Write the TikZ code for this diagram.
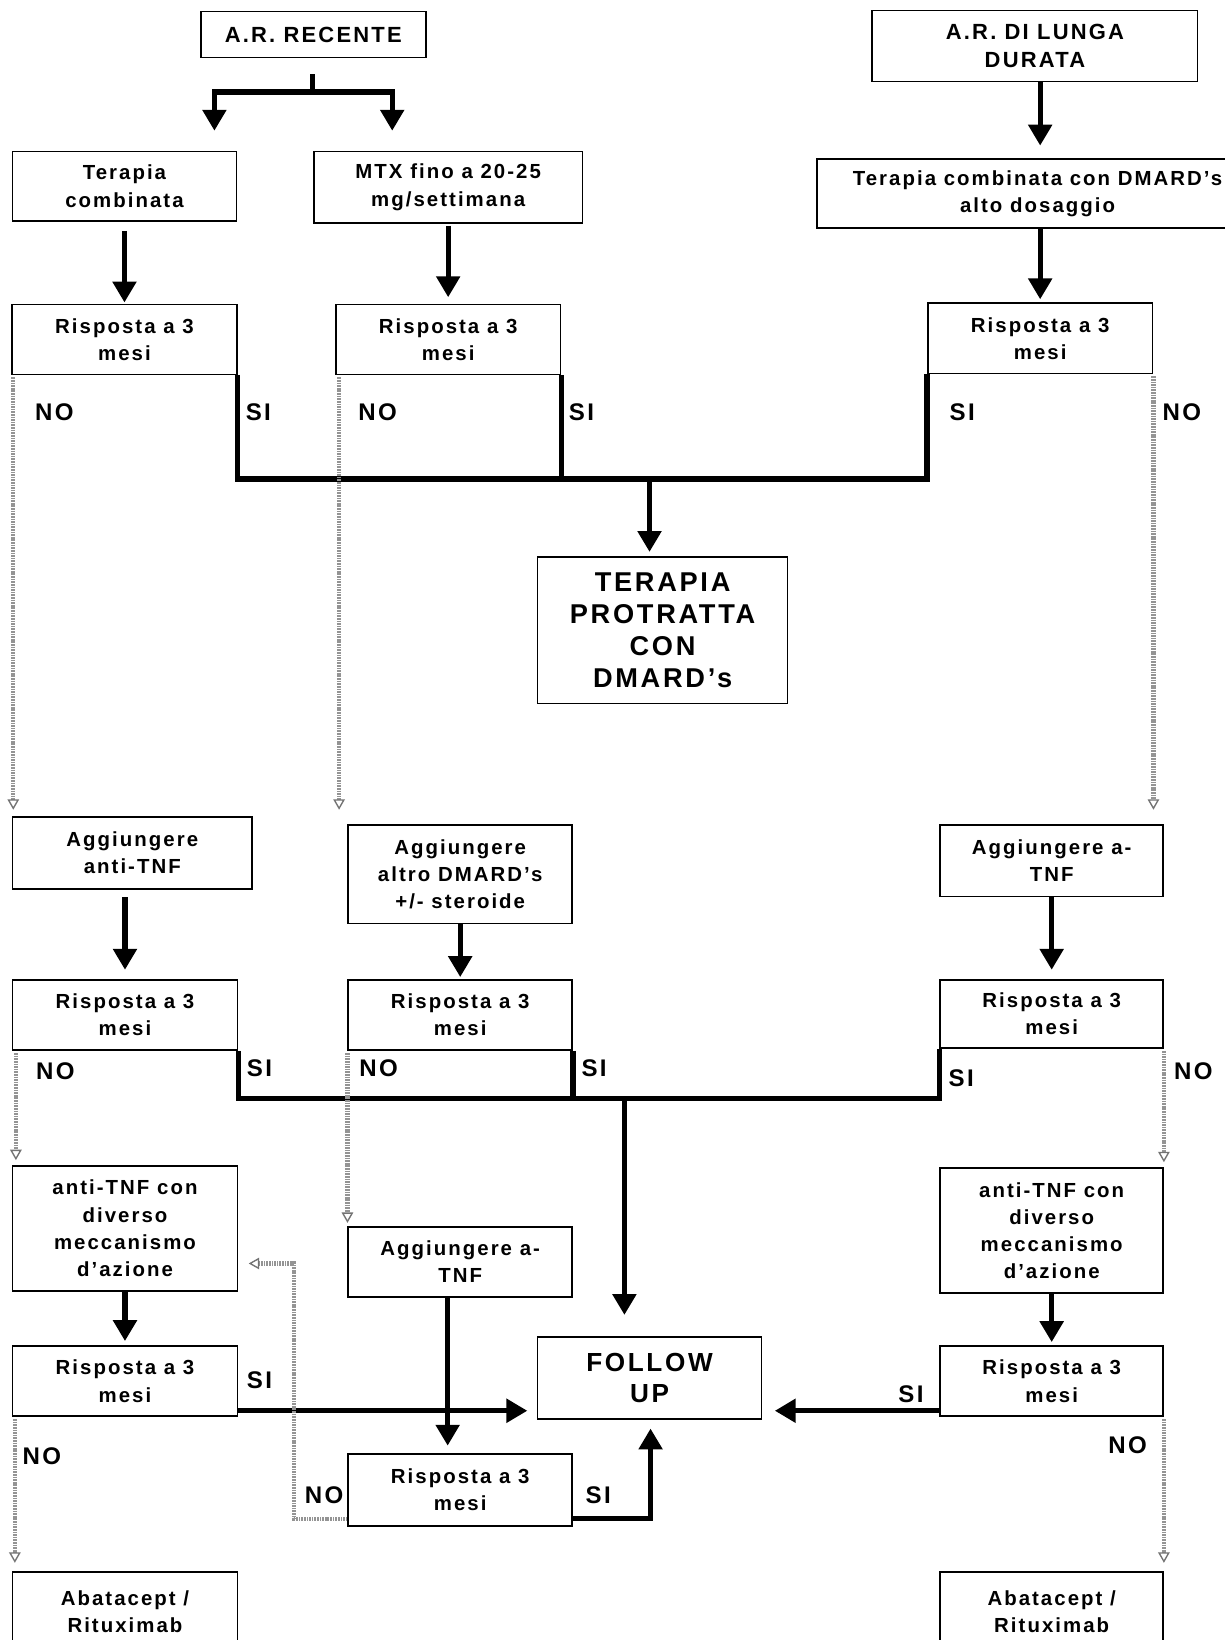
\documentclass[tikz,border=0pt]{standalone}
\usepackage{fontspec}
\setmainfont{Liberation Sans}[LetterSpace=10]
\usetikzlibrary{arrows.meta,calc}
\tikzset{
  box/.style={draw, line width=1.6pt, align=center, inner sep=0pt, font=\fontsize{19.5}{26}\selectfont\bfseries},
  rs/.style={minimum width=215pt, minimum height=67pt},
  hdr/.style={font=\fontsize{21}{26}\selectfont\bfseries},
  big/.style={font=\fontsize{26}{30.5}\selectfont\bfseries},
  lbl/.style={inner sep=0pt, font=\fontsize{23}{26}\selectfont\bfseries},
  thk/.style={line width=5pt},
  thkarr/.style={line width=5pt, -{Triangle[width=22pt,length=20pt]}},
  noline/.style={draw=black!42, line width=4pt, dash pattern=on 1.6pt off 0.9pt,
    -{Triangle[open,line width=1.3pt,width=11pt,length=10pt,color=black!55]}},
}
\begin{document}
\begin{tikzpicture}[x=1pt,y=-1pt]
\useasboundingbox (0,0) rectangle (1171,1568);
\fill[white] (0,0) rectangle (1171,1568);
\clip (0,0) rectangle (1171,1568);

% ---------- boxes ----------
\node[box, hdr, minimum width=215pt, minimum height=44pt] (rec) at (299.5,33) {A.R. RECENTE};
\node[box, hdr, minimum width=311pt, minimum height=68pt] (lunga) at (989.5,44) {A.R. DI LUNGA\\DURATA};
\node[box, minimum width=214pt, minimum height=66pt] (tc) at (119,178) {Terapia\\combinata};
\node[box, minimum width=257pt, minimum height=68pt] (mtx) at (428.5,179) {MTX fino a 20-25\\mg/settimana};
\node[box, minimum width=422pt, minimum height=66pt] (tcd) at (992,185) {Terapia combinata con DMARD’s\\alto dosaggio};
\node[box, rs] (r1L) at (119,324.5) {Risposta a 3\\mesi};
\node[box, rs] (r1M) at (428.5,324.5) {Risposta a 3\\mesi};
\node[box, rs] (r1R) at (994.5,323.5) {Risposta a 3\\mesi};
\node[box, big, minimum width=239pt, minimum height=140pt] (tp) at (633.5,602.5) {TERAPIA\\PROTRATTA\\CON\\DMARD’s};
\node[box, minimum width=229pt, minimum height=69pt] (aL) at (126.5,815.5) {Aggiungere\\anti-TNF};
\node[box, minimum width=214pt, minimum height=94pt] (aM) at (440,836) {Aggiungere\\altro DMARD’s\\+/- steroide};
\node[box, minimum width=213pt, minimum height=68pt] (aR) at (1005.5,823) {Aggiungere a-\\TNF};
\node[box, rs] (r2L) at (119.5,970.5) {Risposta a 3\\mesi};
\node[box, rs, minimum width=214pt] (r2M) at (440,970.5) {Risposta a 3\\mesi};
\node[box, rs, minimum width=213pt, minimum height=65pt] (r2R) at (1005.5,969.5) {Risposta a 3\\mesi};
\node[box, minimum width=215pt, minimum height=119pt] (atL) at (119.5,1174.5) {anti-TNF con\\diverso\\meccanismo\\d’azione};
\node[box, minimum width=214pt, minimum height=67pt] (aM2) at (440,1206.5) {Aggiungere a-\\TNF};
\node[box, minimum width=213pt, minimum height=119pt] (atR) at (1005.5,1176.5) {anti-TNF con\\diverso\\meccanismo\\d’azione};
\node[box, rs] (r3L) at (119.5,1320.5) {Risposta a 3\\mesi};
\node[box, font=\fontsize{25}{29}\selectfont\bfseries, minimum width=214pt, minimum height=79pt] (fu) at (621,1317.5) {FOLLOW\\UP};
\node[box, rs, minimum width=213pt] (r3R) at (1005.5,1320.5) {Risposta a 3\\mesi};
\node[box, rs, minimum width=214pt, minimum height=69pt] (r3M) at (440,1424.5) {Risposta a 3\\mesi};
\node[box, minimum width=215pt, minimum height=76pt] (abL) at (119.5,1541) {Abatacept /\\Rituximab};
\node[box, minimum width=213pt, minimum height=76pt] (abR) at (1005.5,1541) {Abatacept /\\Rituximab};

% ---------- top split ----------
\coordinate (sp) at (299,88);
\coordinate (tcin) at (205,125);
\coordinate (mtxin) at (375,125);
\draw[thk] ($(rec.south)+(-0.5,15)$) -- (sp);
\draw[thkarr] (sp) -| (tcin);
\draw[thkarr] (sp) -| (mtxin);
\draw[thkarr, shorten >=12pt] (lunga.south -| r1R.north) -- (tcd.north -| r1R.north);
\draw[thkarr, shorten <=9pt, shorten >=1pt] (tc.south) -- (r1L.north);
\draw[thkarr, shorten <=2pt, shorten >=6pt] (mtx.south) -- (r1M.north);
\draw[thkarr, shorten >=3pt] (tcd.south -| r1R.north) -- (r1R.north);

% ---------- row 1 answers ----------
\coordinate (j1) at (621,458);
\draw[thk] (r1L.south east) |- (r1R.south west |- j1) -- (r1R.south west);
\draw[thk] (r1M.south east) -- (r1M.south east |- j1);
\draw[thkarr, shorten >=4pt] (j1) -- (j1 |- tp.north);
\draw[noline, shorten >=6pt] ($(r1L.south west)+(2,2)$) -- ($(r1L.south west |- aL.north)+(2,0)$);
\draw[noline, shorten >=14pt] ($(r1M.south west)+(4,2)$) -- ($(r1M.south west |- aM.north)+(4,0)$);
\draw[noline, shorten >=14pt] ($(r1R.south east)+(0,2)$) -- (r1R.south east |- aR.north);
\node[lbl] (n1) at (52,394) {NO};
\node[lbl] (s1) at (247,394) {SI};
\node[lbl] (n2) at (361,394) {NO};
\node[lbl] (s2) at (556,394) {SI};
\node[lbl] (s3) at (920,394) {SI};
\node[lbl] (n3) at (1130,394) {NO};

% ---------- row 4 arrows ----------
\draw[thkarr, shorten <=7pt, shorten >=9pt] (aL.south -| r2L.north) -- (r2L.north);
\draw[thkarr, shorten >=2pt] (aM.south) -- (r2M.north);
\draw[thkarr, shorten >=9pt] (aR.south -| r2R.north) -- (r2R.north);

% ---------- row 5 answers ----------
\coordinate (j2) at (597,1050);
\draw[thk] (r2L.south east) |- (r2R.south west |- j2) -- (r2R.south west);
\draw[thk] (r2M.south east) -- (r2M.south east |- j2);
\draw[thkarr, shorten >=20pt] (j2) -- (j2 |- fu.north);
\draw[noline, shorten >=5pt] ($(r2L.south west)+(4,2)$) -- ($(r2L.south west |- atL.north)+(4,0)$);
\draw[noline, shorten >=3pt] ($(r2M.south west)+(0,2)$) -- (r2M.south west |- aM2.north);
\draw[noline, shorten >=5pt] ($(r2R.south east)+(0,2)$) -- (r2R.south east |- atR.north);
\node[lbl] (n4) at (53,1024) {NO};
\node[lbl] (s4) at (248,1021) {SI};
\node[lbl] (n5) at (362,1021) {NO};
\node[lbl] (s5) at (568,1021) {SI};
\node[lbl] (s6) at (919,1031) {SI};
\node[lbl] (n6) at (1141,1024) {NO};

% ---------- row 6 arrows ----------
\draw[thkarr, shorten >=4pt] (atL.south -| r3L.north) -- (r3L.north);
\draw[thkarr, shorten >=3pt] (atR.south -| r3R.north) -- (r3R.north);
\draw[thkarr, shorten >=7pt] ($(aM2.south)+(-12,0)$) -- ($(r3M.north)+(-12,0)$);

% ---------- row 7 ----------
\draw[thkarr, shorten >=9pt] ($(r3L.south east)+(0,-6)$) -- ($(fu.west |- r3L.south east)+(0,-6)$);
\draw[thkarr, shorten >=12pt] ($(r3R.south west)+(0,-6)$) -- ($(fu.east |- r3R.south west)+(0,-6)$);
\coordinate (sib) at (622,1452);
\draw[thkarr, shorten >=8pt] (r3M.east |- sib) -| (sib |- fu.south);
\coordinate (nb) at (281,1452);
\coordinate (nt) at (281,1208);
\draw[noline, shorten >=10pt] (r3M.west |- nb) -- (nb) -- (nt) -- (atL.east |- nt);
\draw[noline, shorten >=8pt] ($(r3L.south west)+(3,2)$) -- ($(r3L.south west |- abL.north)+(3,0)$);
\draw[noline, shorten >=8pt] ($(r3R.south east)+(0,2)$) -- (r3R.south east |- abR.north);
\node[lbl] (s7) at (248,1320) {SI};
\node[lbl] (n7) at (40,1392) {NO};
\node[lbl] (s8) at (871,1333) {SI};
\node[lbl] (n8) at (1078,1382) {NO};
\node[lbl] (n9) at (310,1430) {NO};
\node[lbl] (s9) at (572,1430) {SI};
\end{tikzpicture}
\end{document}
